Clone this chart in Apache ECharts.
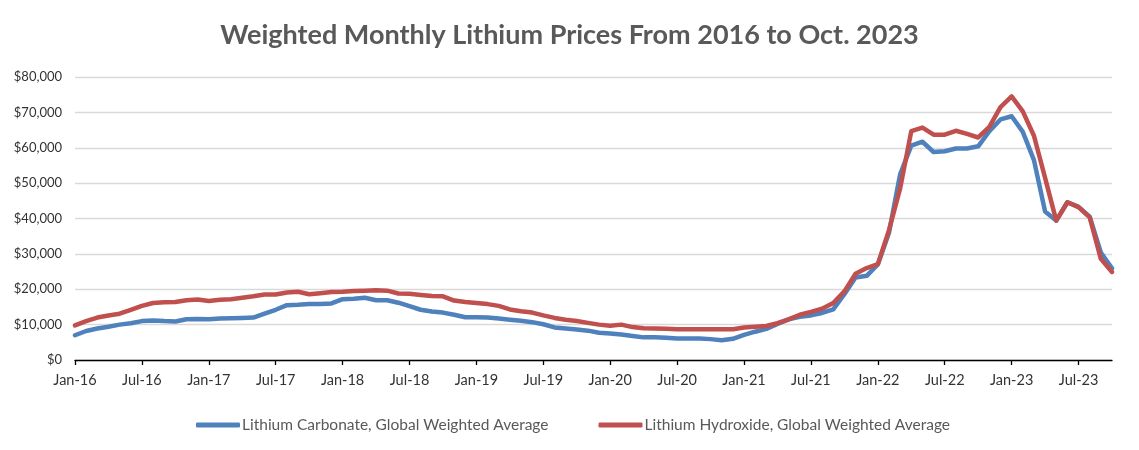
<!DOCTYPE html>
<html>
<head>
<meta charset="utf-8">
<script src="https://cdn.jsdelivr.net/npm/echarts@6/dist/echarts.min.js"></script>
<style>
html,body{margin:0;padding:0;background:#fff;}
#chart{width:1139px;height:450px;}
</style>
</head>
<body>
<div id="chart"></div>
<script>
var titleText = 'Weighted Monthly Lithium Prices From 2016 to Oct. 2023';
var seriesNames = ['Lithium Carbonate, Global Weighted Average', 'Lithium Hydroxide, Global Weighted Average'];

var months = [
'Jan-16','Feb-16','Mar-16','Apr-16','May-16','Jun-16','Jul-16','Aug-16','Sep-16','Oct-16','Nov-16','Dec-16',
'Jan-17','Feb-17','Mar-17','Apr-17','May-17','Jun-17','Jul-17','Aug-17','Sep-17','Oct-17','Nov-17','Dec-17',
'Jan-18','Feb-18','Mar-18','Apr-18','May-18','Jun-18','Jul-18','Aug-18','Sep-18','Oct-18','Nov-18','Dec-18',
'Jan-19','Feb-19','Mar-19','Apr-19','May-19','Jun-19','Jul-19','Aug-19','Sep-19','Oct-19','Nov-19','Dec-19',
'Jan-20','Feb-20','Mar-20','Apr-20','May-20','Jun-20','Jul-20','Aug-20','Sep-20','Oct-20','Nov-20','Dec-20',
'Jan-21','Feb-21','Mar-21','Apr-21','May-21','Jun-21','Jul-21','Aug-21','Sep-21','Oct-21','Nov-21','Dec-21',
'Jan-22','Feb-22','Mar-22','Apr-22','May-22','Jun-22','Jul-22','Aug-22','Sep-22','Oct-22','Nov-22','Dec-22',
'Jan-23','Feb-23','Mar-23','Apr-23','May-23','Jun-23','Jul-23','Aug-23','Sep-23','Oct-23'
];

var carbonate = [
7000,8200,8900,9400,10000,10400,11000,11200,11000,10900,11500,11600,
11500,11700,11800,11900,12000,13100,14200,15500,15600,15800,15800,16000,
17200,17300,17600,16900,16900,16200,15200,14200,13700,13400,12800,12100,
12100,12000,11700,11400,11100,10700,10100,9200,8900,8600,8300,7700,
7500,7200,6800,6400,6400,6300,6100,6100,6100,5900,5600,6000,
7100,8000,8800,10200,11500,12200,12600,13300,14300,18600,23300,23800,
27000,36000,52500,60600,61700,58800,59000,59800,59800,60400,64700,68000,
68900,64500,56500,42000,39400,44600,43300,40500,30400,25900
];

var hydroxide = [
9800,11000,12000,12600,13100,14200,15300,16100,16300,16400,16900,17100,
16700,17000,17200,17600,18000,18500,18500,19100,19300,18600,18900,19200,
19300,19500,19600,19700,19600,18800,18700,18400,18100,18000,16800,16400,
16100,15800,15300,14300,13800,13400,12600,11900,11400,11000,10500,10000,
9700,10000,9300,9000,8900,8800,8700,8700,8700,8700,8700,8700,
9200,9400,9600,10400,11500,12800,13600,14500,16100,19400,24400,26000,
27100,36700,48500,64700,65700,63700,63700,64800,63900,62900,65900,71500,
74500,70300,63400,51500,39400,44600,43200,40300,28600,24900
];

var yTicks = {min: 0, max: 80000, interval: 10000};
var colors = ['#4F81BD', '#C0504D'];

var chart = echarts.init(document.getElementById('chart'), null, {renderer: 'canvas'});
var fontFam = 'Lato, "Open Sans", sans-serif';

function money(v) {
  return '$' + String(v).replace(/\B(?=(\d{3})+(?!\d))/g, ',');
}

chart.setOption({
  animation: false,
  backgroundColor: '#ffffff',
  color: colors,
  title: {
    text: titleText,
    left: 'center',
    top: 17,
    textStyle: {fontFamily: fontFam, fontSize: 27, fontWeight: 'bold', color: '#595959'}
  },
  legend: {
    left: 191,
    top: 412,
    itemWidth: 44,
    itemHeight: 5,
    itemGap: 50,
    icon: 'roundRect',
    textStyle: {fontFamily: fontFam, fontSize: 15.5, color: '#595959', padding: [0, 0, 0, -3]},
    data: seriesNames
  },
  grid: {left: 75, right: 27, top: 77, bottom: 90, containLabel: false},
  xAxis: {
    type: 'category',
    data: months,
    boundaryGap: false,
    axisLine: {show: true, lineStyle: {color: '#000000', width: 1.3}},
    axisTick: {show: true, interval: 5, length: 5, inside: false, lineStyle: {color: '#000000', width: 1.3}},
    axisLabel: {interval: 5, margin: 13, fontFamily: fontFam, fontSize: 14.5, color: '#333333'},
    splitLine: {show: false}
  },
  yAxis: {
    type: 'value',
    min: yTicks.min,
    max: yTicks.max,
    interval: yTicks.interval,
    axisLine: {show: false},
    axisTick: {show: false},
    axisLabel: {formatter: money, margin: 13, fontFamily: fontFam, fontSize: 13, color: '#333333'},
    splitLine: {show: true, lineStyle: {color: '#d9d9d9', width: 1.3}}
  },
  series: [
    {name: seriesNames[0], type: 'line', data: carbonate, showSymbol: false, symbol: 'none',
     lineStyle: {width: 4.5, color: colors[0], cap: 'round', join: 'round'}, z: 2},
    {name: seriesNames[1], type: 'line', data: hydroxide, showSymbol: false, symbol: 'none',
     lineStyle: {width: 4.5, color: colors[1], cap: 'round', join: 'round'}, z: 3}
  ]
});
</script>
</body>
</html>
